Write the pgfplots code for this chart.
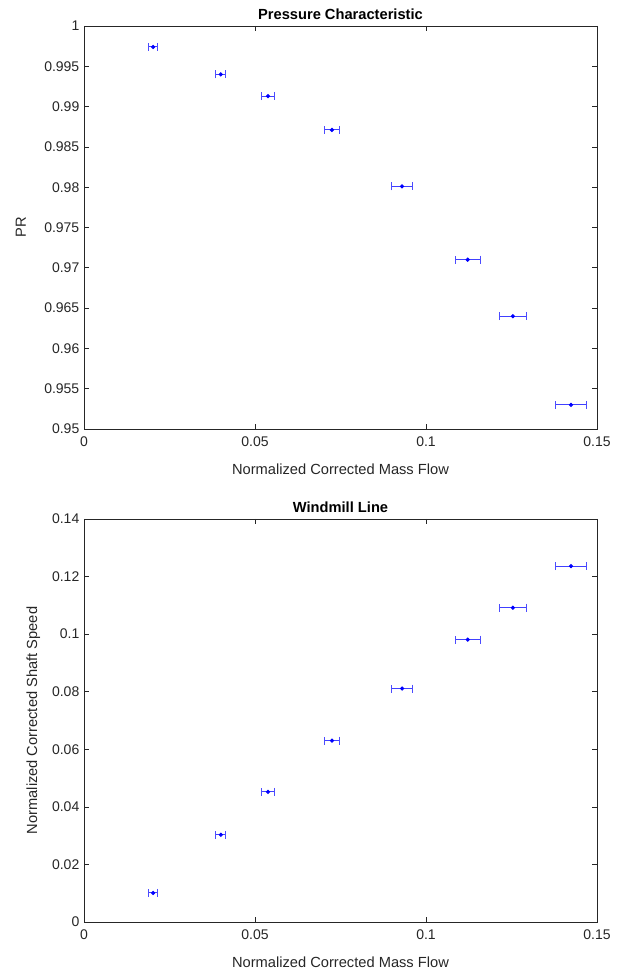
\documentclass[border=0pt]{standalone}
\usepackage{fontspec}
\setmainfont{Liberation Sans}
\usepackage{pgfplots}
\pgfplotsset{compat=1.18}
\definecolor{mlblue}{RGB}{0,0,255}
\definecolor{mlaxis}{HTML}{262626}

\pgfplotsset{
  mlstyle/.style={
    scale only axis,
    width=384.75pt, height=302.25pt,
    axis line style={mlaxis, line width=0.5pt},
    tick style={mlaxis, line width=0.5pt},
    tick align=inside,
    major tick length=4pt,
    xmin=0, xmax=0.15,
    xtick={0,0.05,0.1,0.15},
    xticklabels={0,0.05,0.1,0.15},
    ticklabel style={font=\fontsize{10.5}{12}\selectfont, text=mlaxis},
    xticklabel style={yshift=-2.5pt},
    label style={font=\fontsize{11}{13}\selectfont, text=mlaxis},
    title style={font=\fontsize{11}{13}\selectfont\bfseries, yshift=-5pt},
    xlabel={Normalized Corrected Mass Flow},
    xlabel style={yshift=-6pt},
    /pgf/number format/assume math mode=true,
    scaled ticks=false,
  },
  ebar/.style={
    color=mlblue, line width=0.7pt, mark=*, mark size=1.2pt, only marks,
    mark options={fill=mlblue, draw=mlblue},
    error bars/.cd, x dir=both, x explicit,
    error bar style={color=mlblue!75, line width=0.8pt},
    error mark=|,
    error mark options={color=mlblue!70, mark size=3pt, line width=0.8pt},
  },
}

\begin{document}
\begin{tikzpicture}
\useasboundingbox (0pt,0pt) rectangle (466.5pt,729.75pt);

\begin{axis}[mlstyle, at={(63pt,408pt)}, anchor=south west,
  title={Pressure Characteristic},
  ymin=0.95, ymax=1,
  ytick={0.95,0.955,0.96,0.965,0.97,0.975,0.98,0.985,0.99,0.995,1},
  yticklabels={0.95,0.955,0.96,0.965,0.97,0.975,0.98,0.985,0.99,0.995,1},
  ylabel={PR},
  ylabel style={yshift=7pt},
]
\addplot[ebar] coordinates {
  (0.0202,0.9974) +- (0.0013,0)
  (0.0400,0.9940) +- (0.0015,0)
  (0.0538,0.9913) +- (0.0019,0)
  (0.0725,0.9871) +- (0.0023,0)
  (0.0930,0.9801) +- (0.0030,0)
  (0.1122,0.9710) +- (0.0036,0)
  (0.1254,0.9640) +- (0.0040,0)
  (0.1424,0.9530) +- (0.0045,0)
};
\end{axis}

\begin{axis}[mlstyle, at={(63pt,38.25pt)}, anchor=south west,
  title={Windmill Line},
  ymin=0, ymax=0.14,
  ytick={0,0.02,0.04,0.06,0.08,0.1,0.12,0.14},
  yticklabels={0,0.02,0.04,0.06,0.08,0.1,0.12,0.14},
  ylabel={Normalized Corrected Shaft Speed},
  ylabel style={yshift=2pt},
]
\addplot[ebar] coordinates {
  (0.0202,0.0101) +- (0.0013,0)
  (0.0400,0.0303) +- (0.0015,0)
  (0.0538,0.0452) +- (0.0019,0)
  (0.0725,0.0630) +- (0.0023,0)
  (0.0930,0.0811) +- (0.0030,0)
  (0.1122,0.0981) +- (0.0036,0)
  (0.1254,0.1092) +- (0.0040,0)
  (0.1424,0.1236) +- (0.0045,0)
};
\end{axis}
\end{tikzpicture}
\end{document}
